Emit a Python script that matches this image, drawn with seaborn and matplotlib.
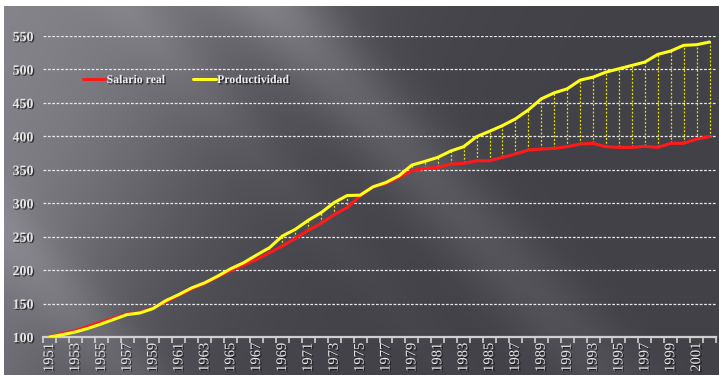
import numpy as np
import pandas as pd
import matplotlib
matplotlib.use("Agg")
import matplotlib.pyplot as plt
import matplotlib.patheffects as pe
from matplotlib.ticker import FixedLocator
from matplotlib.lines import Line2D
import seaborn as sns

# Índices base 1951 = 100
years = list(range(1951, 2003))
salario_real = [100, 105.5, 109.5, 116, 122.5, 128.5, 134.5, 137, 143, 153,
                162.5, 172, 180, 190, 199.5, 207.5, 216, 226, 236, 247.5,
                259.5, 270, 283, 293.5, 311, 324.5, 329.5, 338.5, 348.5, 352,
                353.5, 358.5, 359.5, 363.5, 363.5, 368.5, 373.5, 379.5, 381, 382,
                384.5, 388.5, 389.5, 384.5, 383.5, 383.5, 385, 383.5, 389.5, 389.5,
                396, 399.5]
productividad = [100, 103.5, 107.5, 113, 119.5, 126.5, 133.5, 136, 142.5, 154.5,
                 163.5, 173.5, 181, 191, 202, 211, 222.5, 233.5, 251, 261,
                 274.5, 286, 301, 311.5, 312, 324.5, 331, 341, 357, 362.5,
                 368.5, 378, 384.5, 399.5, 407.5, 416, 426, 439.5, 456, 465,
                 471, 484, 488.5, 496, 501, 506, 511, 522.5, 527.5, 536,
                 537, 541]
series_names = ["Salario real", "Productividad"]
y_ticks = [100, 150, 200, 250, 300, 350, 400, 450, 500, 550]

df = pd.DataFrame({
    "Año": years * 2,
    "Índice": salario_real + productividad,
    "Serie": [series_names[0]] * len(years) + [series_names[1]] * len(years),
})

sns.set_theme(style="dark")
plt.rcParams["font.family"] = ["Liberation Serif", "DejaVu Serif"]

W, H = 719, 375
fig = plt.figure(figsize=(W / 100, H / 100), dpi=100, facecolor="white")

# Dark slide-style background with soft light rays
bx0, by0 = 4, 6
bw, bh = W - bx0, H - by0
xx, yy = np.meshgrid(np.arange(bx0, W) + 0.5, np.arange(by0, H) + 0.5)
u = xx + 0.55 * yy
base = 68 + 70 / (1 + np.exp((u - 250) / 80))
v = xx - 0.9 * yy
ray1 = 34 * np.exp(-0.5 * ((v - 268) / 38) ** 2) * np.exp(-yy / 420)
ray2 = 16 * np.exp(-0.5 * ((v + 205) / 30) ** 2)
ray3 = 10 * np.exp(-0.5 * ((v - 120) / 25) ** 2) * np.exp(-yy / 300)
b = base + ray1 + ray2 + ray3
img = np.stack([b - 2, b - 3, b + 4], axis=-1) / 255.0
img = np.clip(img, 0, 1)
ax_bg = fig.add_axes([bx0 / W, 0, bw / W, bh / H])
ax_bg.imshow(img, aspect="auto", interpolation="bilinear")
ax_bg.set_axis_off()

# Main chart area
left, right, bottom, top = 43, 716, 337, 36
ax = fig.add_axes([left / W, 1 - bottom / H, (right - left) / W, (bottom - top) / H])
ax.set_facecolor("none")
ax.patch.set_alpha(0)

# Gap between productivity and real wage, one dotted drop line per year
ax.vlines(years, salario_real, productividad, colors="#e0e000",
          linestyles=(0, (1.6, 1.4)), linewidths=0.9, zorder=2)

sns.lineplot(data=df, x="Año", y="Índice", hue="Serie",
             palette={"Salario real": "#ff1a1a", "Productividad": "#ffff1a"},
             linewidth=2.2, ax=ax, zorder=3, legend=False)

ax.set_xlim(1950.5, 2002.5)
ax.set_ylim(100, 550)
ax.set_xlabel("")
ax.set_ylabel("")

for s in ["top", "right", "left"]:
    ax.spines[s].set_visible(False)
ax.spines["bottom"].set_color("#d0d0d0")
ax.spines["bottom"].set_linewidth(1.6)

ax.yaxis.set_major_locator(FixedLocator(y_ticks))
for yv in y_ticks[1:]:
    ax.axhline(yv, color="#e8e8e8", lw=0.9, ls=(0, (2.2, 1.3)), zorder=1)
ax.grid(False)

shadow = [pe.withSimplePatchShadow(offset=(1, -1), shadow_rgbFace="black", alpha=0.6)]

label_years = [y for y in years if y % 2 == 1]
ax.set_xticks(label_years)
ax.set_xticklabels([str(y) for y in label_years], rotation=90, fontsize=10.5,
                   color="#e6e6e6")
ax.set_xticks([y - 0.5 for y in years] + [years[-1] + 0.5], minor=True)
ax.tick_params(axis="x", which="major", length=0, pad=4)
ax.tick_params(axis="x", which="minor", length=4, width=1.2, color="#d0d0d0",
               direction="out", bottom=True)
ax.set_yticklabels([str(t) for t in y_ticks], fontsize=10, fontweight="bold",
                   color="#e6e6e6")
ax.tick_params(axis="y", length=0, pad=7)
for t in ax.get_xticklabels() + ax.get_yticklabels():
    t.set_path_effects(shadow)

# Legend
handles = [Line2D([], [], color="#ff1a1a", lw=2.2),
           Line2D([], [], color="#ffff1a", lw=2.2)]
leg = ax.legend(handles, series_names, ncol=2, frameon=False,
                loc="center left", bbox_to_anchor=(83 / W, 1 - 80 / H),
                bbox_transform=fig.transFigure, borderpad=0, borderaxespad=0,
                handlelength=1.9, handletextpad=0.1, columnspacing=2.4,
                prop={"family": ["Liberation Serif"], "weight": "bold", "size": 8.5})
for t in leg.get_texts():
    t.set_color("#eeeeee")
    t.set_path_effects(shadow)

fig.savefig("out.png", dpi=100, facecolor="white")
